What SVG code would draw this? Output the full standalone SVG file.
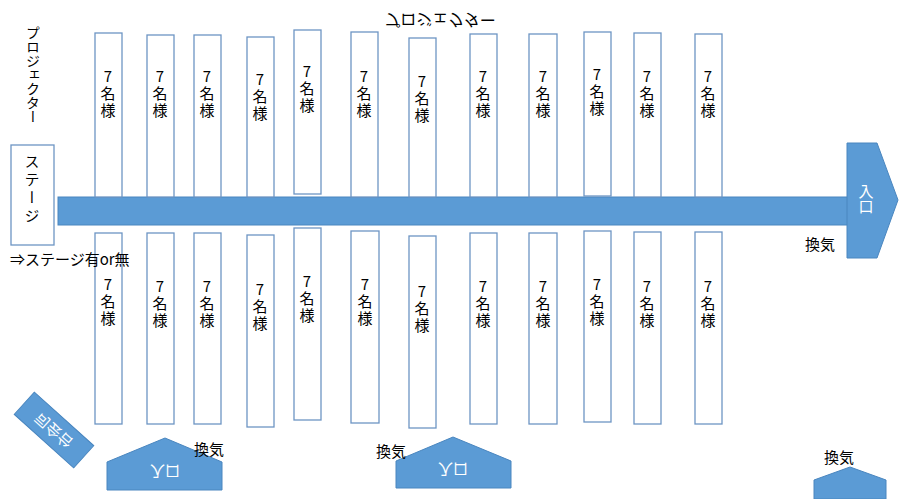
<svg xmlns="http://www.w3.org/2000/svg" width="900" height="499" viewBox="0 0 900 499">
<style>
.b{fill:#fff;stroke:#6d95c4;stroke-width:1.3}
.s{fill:#5b9bd5;stroke:#4a86bf;stroke-width:1}
.t{font-family:"Noto Sans CJK JP","Liberation Sans",sans-serif;font-size:15px;fill:#000}
.w{font-family:"Noto Sans CJK JP","Liberation Sans",sans-serif;font-size:15px;fill:#fff}
.v{writing-mode:vertical-rl}
</style>
<defs>
<g id="seat"><text class="t" text-anchor="middle"><tspan x="0" y="0">7</tspan><tspan x="0" y="17">名</tspan><tspan x="0" y="34">様</tspan></text></g>
</defs>
<g id="connectors">
<rect class="s" x="58" y="197" width="790" height="28"/>
</g>
<g id="entrance-right"><path class="s" d="M847,143H877L898,200L877,258H847Z"/><text class="w v" x="866" y="184">入口</text></g>
<g id="stage"><rect class="b" x="11" y="145" width="43" height="100"/><text class="t v" x="32" y="154" style="letter-spacing:3px">ステージ</text></g>
<g id="projector-left"><text class="t v" style="font-size:14px" x="33" y="26">プロジェクター</text></g>
<g id="projector-top"><text class="t" style="font-size:16px" transform="translate(440,20) scale(1,-1)" text-anchor="middle" y="6">プロジェクター</text></g>
<g id="seats-top">
<rect class="b" x="95" y="33" width="27" height="164"/><use href="#seat" x="108" y="82"/>
<rect class="b" x="147" y="35" width="27" height="162"/><use href="#seat" x="160" y="82"/>
<rect class="b" x="194" y="35" width="27" height="162"/><use href="#seat" x="207" y="82"/>
<rect class="b" x="247" y="37" width="27" height="160"/><use href="#seat" x="260" y="85"/>
<rect class="b" x="294" y="30" width="27" height="164"/><use href="#seat" x="307" y="77"/>
<rect class="b" x="351" y="32" width="27" height="165"/><use href="#seat" x="364" y="82"/>
<rect class="b" x="409" y="38" width="27" height="159"/><use href="#seat" x="422" y="87"/>
<rect class="b" x="470" y="34" width="27" height="163"/><use href="#seat" x="483" y="82"/>
<rect class="b" x="529" y="34" width="28" height="163"/><use href="#seat" x="543" y="82"/>
<rect class="b" x="584" y="32" width="27" height="164"/><use href="#seat" x="597" y="80"/>
<rect class="b" x="634" y="33" width="27" height="164"/><use href="#seat" x="647" y="82"/>
<rect class="b" x="695" y="34" width="27" height="163"/><use href="#seat" x="708" y="82"/>
</g>
<g id="seats-bottom">
<rect class="b" x="95" y="233" width="27" height="191"/><use href="#seat" x="108" y="290"/>
<rect class="b" x="147" y="233" width="27" height="191"/><use href="#seat" x="160" y="292"/>
<rect class="b" x="194" y="233" width="27" height="191"/><use href="#seat" x="207" y="292"/>
<rect class="b" x="247" y="235" width="27" height="192"/><use href="#seat" x="260" y="295"/>
<rect class="b" x="294" y="228" width="27" height="192"/><use href="#seat" x="307" y="287"/>
<rect class="b" x="351" y="231" width="28" height="192"/><use href="#seat" x="365" y="290"/>
<rect class="b" x="409" y="236" width="27" height="192"/><use href="#seat" x="422" y="297"/>
<rect class="b" x="470" y="233" width="27" height="191"/><use href="#seat" x="483" y="292"/>
<rect class="b" x="529" y="233" width="28" height="191"/><use href="#seat" x="543" y="292"/>
<rect class="b" x="584" y="231" width="27" height="191"/><use href="#seat" x="597" y="290"/>
<rect class="b" x="634" y="232" width="27" height="192"/><use href="#seat" x="647" y="292"/>
<rect class="b" x="695" y="232" width="27" height="192"/><use href="#seat" x="708" y="292"/>
</g>
<text class="t" x="10" y="265">⇒ステージ有or無</text>
<g id="mc"><g transform="translate(54,430) rotate(42)"><rect class="s" x="-40" y="-15" width="80" height="30"/><text class="w" text-anchor="middle" y="5" transform="scale(1,-1)">司会台</text></g></g>
<g id="entrance-b1"><path class="s" d="M107,490V462L165,438L222,462V490Z"/><text class="w" text-anchor="middle" transform="translate(165,471) scale(1,-1)" y="5">入口</text></g>
<g id="entrance-b2"><path class="s" d="M396,488V461L453,437L511,461V488Z"/><text class="w" text-anchor="middle" transform="translate(453,469) scale(1,-1)" y="5">入口</text></g>
<g id="entrance-b3"><path class="s" d="M814,499V480L850,467L886,480V499Z"/></g>
<text class="t" x="194" y="455">換気</text>
<text class="t" x="376" y="457">換気</text>
<text class="t" x="805" y="250">換気</text>
<text class="t" x="824" y="463">換気</text>
</svg>
